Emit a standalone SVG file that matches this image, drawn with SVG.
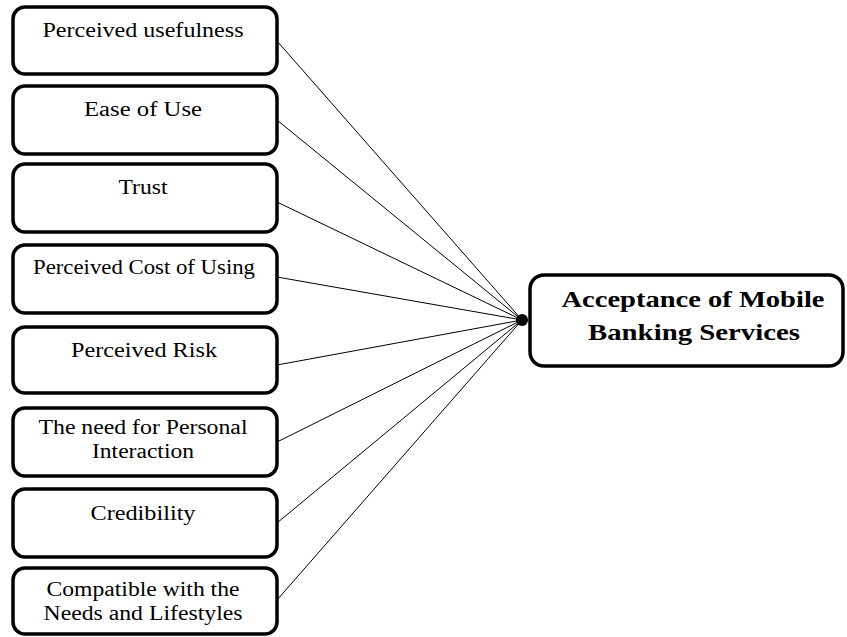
<svg xmlns="http://www.w3.org/2000/svg" width="847" height="637" viewBox="0 0 847 637">
<style>
.box{fill:#fff;stroke:#000;stroke-width:3.5}
.t{font-family:"Liberation Serif","Times New Roman",serif;font-size:20px;text-anchor:middle;fill:#000}
.b{font-family:"Liberation Serif","Times New Roman",serif;font-size:23px;font-weight:bold;text-anchor:middle;fill:#000}
.c{stroke:#000;stroke-width:1;fill:none}
</style>
<rect width="847" height="637" fill="#fff"/>
<g id="connectors">
<line class="c" x1="277" y1="41" x2="522" y2="320"/>
<line class="c" x1="277" y1="120" x2="522" y2="320"/>
<line class="c" x1="277" y1="202" x2="522" y2="320"/>
<line class="c" x1="277" y1="277" x2="522" y2="320"/>
<line class="c" x1="277" y1="365" x2="522" y2="320"/>
<line class="c" x1="277" y1="442" x2="522" y2="320"/>
<line class="c" x1="277" y1="523" x2="522" y2="320"/>
<line class="c" x1="277" y1="600" x2="522" y2="320"/>
<circle cx="522" cy="320" r="6" fill="#000"/>
</g>
<g id="n1"><rect class="box" x="13" y="7" width="264" height="67" rx="12"/><text class="t" x="143" y="37" textLength="201" lengthAdjust="spacingAndGlyphs">Perceived usefulness</text></g>
<g id="n2"><rect class="box" x="13" y="86" width="264" height="68" rx="12"/><text class="t" x="143" y="116" textLength="118" lengthAdjust="spacingAndGlyphs">Ease of Use</text></g>
<g id="n3"><rect class="box" x="13" y="164" width="264" height="68" rx="12"/><text class="t" x="143" y="194" textLength="49" lengthAdjust="spacingAndGlyphs">Trust</text></g>
<g id="n4"><rect class="box" x="13" y="245" width="264" height="68" rx="12"/><text class="t" x="144" y="274" textLength="222" lengthAdjust="spacingAndGlyphs">Perceived Cost of Using</text></g>
<g id="n5"><rect class="box" x="13" y="327" width="264" height="66" rx="12"/><text class="t" x="144" y="357" textLength="146" lengthAdjust="spacingAndGlyphs">Perceived Risk</text></g>
<g id="n6"><rect class="box" x="13" y="408" width="264" height="68" rx="12"/><text class="t" x="143" y="434" textLength="209" lengthAdjust="spacingAndGlyphs">The need for Personal</text><text class="t" x="143" y="458" textLength="102" lengthAdjust="spacingAndGlyphs">Interaction</text></g>
<g id="n7"><rect class="box" x="13" y="489" width="264" height="68" rx="12"/><text class="t" x="143" y="520" textLength="105" lengthAdjust="spacingAndGlyphs">Credibility</text></g>
<g id="n8"><rect class="box" x="13" y="568" width="264" height="66" rx="12"/><text class="t" x="143" y="596" textLength="193" lengthAdjust="spacingAndGlyphs">Compatible with the</text><text class="t" x="143" y="620" textLength="199" lengthAdjust="spacingAndGlyphs">Needs and Lifestyles</text></g>
<g id="target"><rect class="box" x="530" y="275" width="313" height="91" rx="14"/><text class="b" x="693" y="307" textLength="263" lengthAdjust="spacingAndGlyphs">Acceptance of Mobile</text><text class="b" x="694" y="340" textLength="212" lengthAdjust="spacingAndGlyphs">Banking Services</text></g>
</svg>
